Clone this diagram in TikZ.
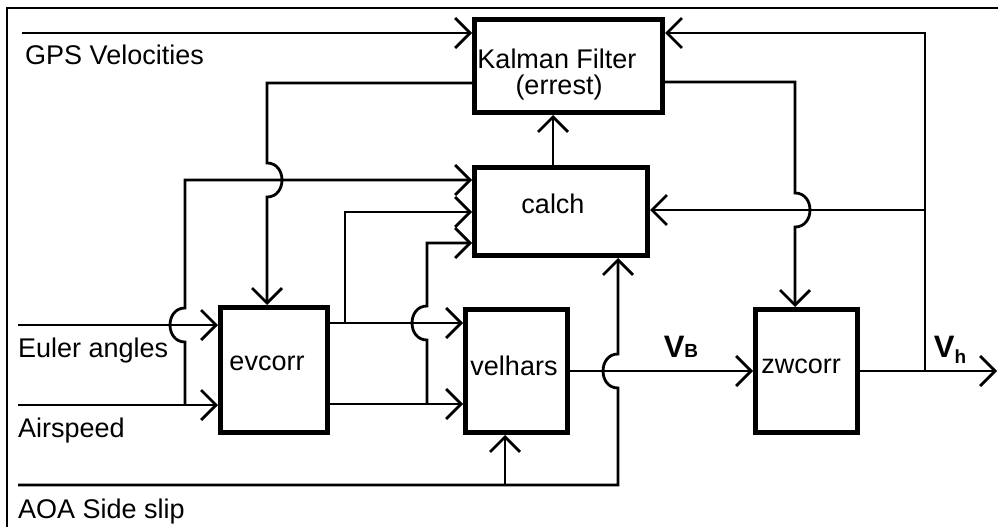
\documentclass[tikz,border=0pt]{standalone}
\usepackage{fontspec}
\setmainfont{Liberation Sans}
\usetikzlibrary{arrows.meta,calc}
\tikzset{
  blk/.style={draw, line width=5pt, inner sep=0pt, fill=white},
  conn/.style={line width=2.8pt, line join=miter},
  arr/.style={conn, -{Straight Barb[length=15pt,width=30pt,line width=2.8pt]}},
  lbl/.style={font=\fontsize{27}{28}\selectfont, inner sep=0pt, anchor=base},
  sig/.style={font=\fontsize{31}{31}\selectfont\bfseries, inner sep=0pt, anchor=base},
}
\begin{document}
\begin{tikzpicture}[x=1pt,y=-1pt]
\useasboundingbox (0,0) rectangle (998,527);
% frame
\draw[line width=1.8pt] (7,527) -- (7,8) -- (998,8);

% boxes
\node[blk, minimum width=188pt, minimum height=93pt] (kal) at (568.5,66) {};
\node[blk, minimum width=173pt, minimum height=88pt] (calch) at (561,211.5) {};
\node[blk, minimum width=107pt, minimum height=125pt] (ev) at (274,370) {};
\node[blk, minimum width=102pt, minimum height=123pt] (vh) at (516.5,371) {};
\node[blk, minimum width=102pt, minimum height=123pt] (zw) at (806.5,371) {};

% box texts
\node[lbl] (kt1) at (557,68) {Kalman Filter};
\node[lbl] (kt2) at (559,94) {(errest)};
\node[lbl] (ct) at (553,213) {calch};
\node[lbl] (et) at (267,370) {evcorr};
\node[lbl] (vt) at (514,375) {velhars};
\node[lbl] (zt) at (801,373) {zwcorr};

% input labels
\node[lbl, anchor=base west] (gpsl) at (25,65) {GPS Velocities};
\node[lbl, anchor=base west] (eul) at (18,357) {Euler angles};
\node[lbl, anchor=base west] (asl) at (18,437) {Airspeed};
\node[lbl, anchor=base west] (aoal) at (18,518) {AOA Side slip};
\node[sig] (vbl) at (681,357) {V{\fontsize{19}{19}\selectfont B}};
\node[sig] (vhl) at (950,357) {V\raisebox{-6pt}{\fontsize{19}{19}\selectfont h}};

% coordinates
\coordinate (gps) at (22,33);
\coordinate (kr) at (925,33);
\coordinate (vhj) at (925,371);
\coordinate (cr) at (925,210);
\coordinate (kl) at (267,83);
\coordinate (kj) at (267,180);
\coordinate (kr2) at (795,82);
\coordinate (kj2) at (795,210);
\coordinate (ck) at (553,140);
\coordinate (eu) at (18,325);
\coordinate (as) at (18,405);
\coordinate (aoa) at (18,485);
\coordinate (a1) at (185,405);
\coordinate (a1j) at (185,325);
\coordinate (a1t) at (185,180);
\coordinate (e1) at (345,323);
\coordinate (e1t) at (345,212);
\coordinate (e2) at (427,404);
\coordinate (e2j) at (427,323);
\coordinate (e2t) at (427,243);
\coordinate (ab) at (505,485);
\coordinate (ac) at (618,485);
\coordinate (acj) at (618,371);
\coordinate (vend) at (997,371);

% connectors
\draw[arr] (gps) -- (gps -| kal.west);
\draw[arr] (vhj) -- (kr) -- (kr -| kal.east);
\draw[arr] (kl -| kal.west) -- (kl) -- ($(kj)+(0,-17)$)
   .. controls ($(kj)+(20,-17)$) and ($(kj)+(20,17)$) .. ($(kj)+(0,17)$)
   -- (kl |- ev.north);
\draw[arr] (kr2 -| kal.east) -- (kr2) -- ($(kj2)+(0,-17)$)
   .. controls ($(kj2)+(20,-17)$) and ($(kj2)+(20,17)$) .. ($(kj2)+(0,17)$)
   -- (kr2 |- zw.north);
\draw[arr] (calch.north -| ck) -- (kal.south -| ck);
\draw[arr] (cr) -- (cr -| calch.east);
\draw[arr] (a1) -- ($(a1j)+(0,17)$)
   .. controls ($(a1j)+(-20,17)$) and ($(a1j)+(-20,-17)$) .. ($(a1j)+(0,-17)$)
   -- (a1t) -- (a1t -| calch.west);
\draw[arr] (e1) -- (e1t) -- (e1t -| calch.west);
\draw[arr] (e2) -- ($(e2j)+(0,17)$)
   .. controls ($(e2j)+(-20,17)$) and ($(e2j)+(-20,-17)$) .. ($(e2j)+(0,-17)$)
   -- (e2t) -- (e2t -| calch.west);
\draw[arr] (eu) -- (eu -| ev.west);
\draw[arr] (as) -- (as -| ev.west);
\draw[arr] (ev.east |- e1) -- (e1 -| vh.west);
\draw[arr] (ev.east |- e2) -- (e2 -| vh.west);
\draw[arr] (aoa) -- (ac) -- ($(acj)+(0,17)$)
   .. controls ($(acj)+(-20,17)$) and ($(acj)+(-20,-17)$) .. ($(acj)+(0,-17)$)
   -- (ac |- calch.south);
\draw[arr] (ab) -- (ab |- vh.south);
\draw[arr] (vh.east |- acj) -- (acj -| zw.west);
\draw[arr] (zw.east |- vhj) -- (vend);
\end{tikzpicture}
\end{document}
